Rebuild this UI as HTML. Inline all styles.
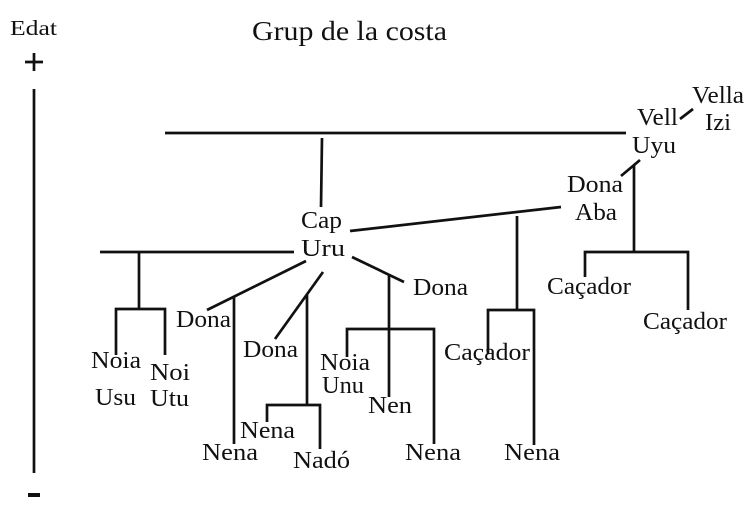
<!DOCTYPE html>
<html><head><meta charset="utf-8"><style>
html,body{margin:0;padding:0;background:#fff;}
svg{display:block;}
text{font-family:"Liberation Serif",serif;font-size:24px;fill:#111;}
</style></head><body>
<svg width="754" height="514" viewBox="0 0 754 514" xmlns="http://www.w3.org/2000/svg">
<g stroke="#111" stroke-width="2.7" fill="none" stroke-linecap="butt">
<line x1="34" y1="89" x2="34" y2="473"/>
<line x1="165" y1="133" x2="626" y2="133"/>
<line x1="322" y1="138" x2="321" y2="207"/>
<line x1="100" y1="252" x2="294" y2="252"/>
<line x1="139" y1="252" x2="139" y2="310"/>
<polyline points="116,355 116,309 165,309 165,355"/>
<line x1="350" y1="231" x2="561" y2="207"/>
<line x1="517" y1="216" x2="517" y2="310"/>
<polyline points="488,354 488,310 534,310 534,445"/>
<line x1="640" y1="160" x2="621" y2="176"/>
<line x1="680" y1="119" x2="693" y2="109"/>
<line x1="634" y1="165" x2="634" y2="252"/>
<polyline points="585,277 585,252 688,252 688,310"/>
<line x1="306" y1="261" x2="207" y2="310"/>
<line x1="234" y1="297" x2="234" y2="444"/>
<line x1="323" y1="272" x2="275" y2="339"/>
<line x1="307" y1="295" x2="307" y2="405"/>
<polyline points="267,422 267,405 320,405 320,449"/>
<line x1="352" y1="257" x2="404" y2="282"/>
<line x1="389" y1="274" x2="389" y2="397"/>
<polyline points="347,357 347,329 434,329 434,444"/>
<line x1="25" y1="62" x2="43" y2="62"/>
<line x1="34" y1="53" x2="34" y2="71"/>
</g>
<rect x="28" y="493" width="12" height="4" fill="#111"/>
<text x="10" y="35" textLength="47" lengthAdjust="spacingAndGlyphs" style="font-size:21px">Edat</text>
<text x="252" y="40" textLength="195" lengthAdjust="spacingAndGlyphs" style="font-size:27px">Grup de la costa</text>
<text x="637" y="125" textLength="41" lengthAdjust="spacingAndGlyphs">Vell</text>
<text x="632" y="153" textLength="44" lengthAdjust="spacingAndGlyphs">Uyu</text>
<text x="692" y="103" textLength="52" lengthAdjust="spacingAndGlyphs">Vella</text>
<text x="705" y="130" textLength="26" lengthAdjust="spacingAndGlyphs">Izi</text>
<text x="567" y="192" textLength="56" lengthAdjust="spacingAndGlyphs">Dona</text>
<text x="575" y="220" textLength="42" lengthAdjust="spacingAndGlyphs">Aba</text>
<text x="301" y="228" textLength="41" lengthAdjust="spacingAndGlyphs">Cap</text>
<text x="301" y="256" textLength="44" lengthAdjust="spacingAndGlyphs">Uru</text>
<text x="413" y="295" textLength="55" lengthAdjust="spacingAndGlyphs">Dona</text>
<text x="547" y="294" textLength="84" lengthAdjust="spacingAndGlyphs">Caçador</text>
<text x="643" y="329" textLength="84" lengthAdjust="spacingAndGlyphs">Caçador</text>
<text x="176" y="327" textLength="55" lengthAdjust="spacingAndGlyphs">Dona</text>
<text x="243" y="357" textLength="55" lengthAdjust="spacingAndGlyphs">Dona</text>
<text x="91" y="368" textLength="50" lengthAdjust="spacingAndGlyphs">Noia</text>
<text x="95" y="405" textLength="41" lengthAdjust="spacingAndGlyphs">Usu</text>
<text x="150" y="380" textLength="40" lengthAdjust="spacingAndGlyphs">Noi</text>
<text x="150" y="406" textLength="39" lengthAdjust="spacingAndGlyphs">Utu</text>
<text x="320" y="370" textLength="50" lengthAdjust="spacingAndGlyphs">Noia</text>
<text x="322" y="393" textLength="42" lengthAdjust="spacingAndGlyphs">Unu</text>
<text x="368" y="413" textLength="44" lengthAdjust="spacingAndGlyphs">Nen</text>
<text x="444" y="360" textLength="86" lengthAdjust="spacingAndGlyphs">Caçador</text>
<text x="240" y="438" textLength="55" lengthAdjust="spacingAndGlyphs">Nena</text>
<text x="202" y="460" textLength="56" lengthAdjust="spacingAndGlyphs">Nena</text>
<text x="293" y="468" textLength="57" lengthAdjust="spacingAndGlyphs">Nadó</text>
<text x="405" y="460" textLength="56" lengthAdjust="spacingAndGlyphs">Nena</text>
<text x="504" y="460" textLength="56" lengthAdjust="spacingAndGlyphs">Nena</text>
</svg>
</body></html>
